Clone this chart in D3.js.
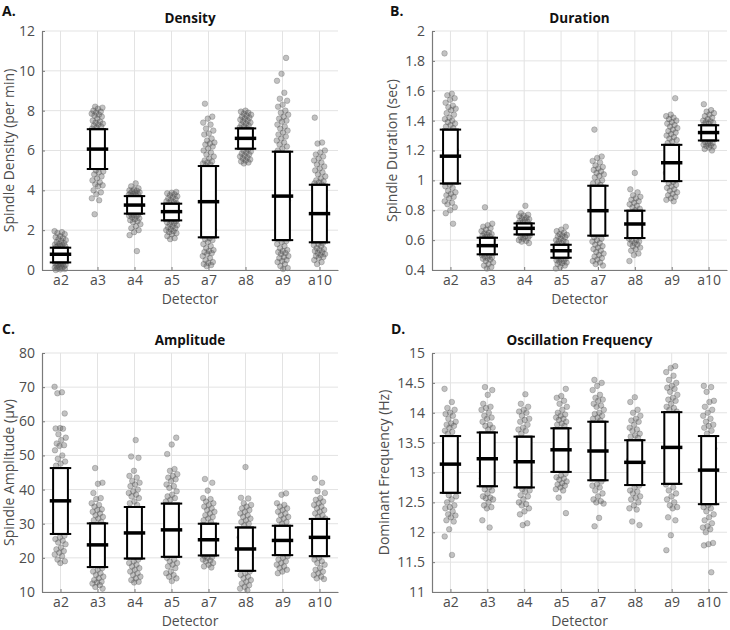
<!DOCTYPE html>
<html>
<head>
<meta charset="utf-8">
<script src="https://cdn.jsdelivr.net/npm/d3@7"></script>
<style>
  body { margin: 0; background: #fff; }
  svg text { font-family: "Open Sans", "Noto Sans", sans-serif; }
  .grid line { stroke: #e3e3e3; stroke-width: 1; }
</style>
</head>
<body>
<svg width="730" height="630"></svg>
<script>
const detectors = ["a2", "a3", "a4", "a5", "a7", "a8", "a9", "a10"]

// Density (per min): mean and mean±SD, then the single subjects
const densityMean = [0.79, 6.07, 3.26, 2.93, 3.43, 6.61, 3.71, 2.83]
const densityLo = [0.38, 5.07, 2.83, 2.49, 1.64, 6.09, 1.50, 1.39]
const densityHi = [1.12, 7.07, 3.71, 3.33, 5.22, 7.11, 5.94, 4.28]
const densityValues = [
  [1.95,1.9,1.85,1.8,1.7,1.65,1.6,1.55,1.5,1.45,1.4,1.35,1.3,1.28,1.25,1.22,1.2,1.18,1.15,1.0,0.9,0.8,0.7,0.6,0.5,0.36,0.33,0.3,0.28,0.25,0.22,0.2,0.18,0.15,0.12,0.1,0.08,0.05,0.03,0.0],
  [8.2,8.15,8.1,8.0,7.95,7.9,7.85,7.8,7.75,7.7,7.6,7.5,7.45,7.4,7.35,7.3,7.25,7.2,7.15,7.1,6.8,6.5,6.2,6.0,5.7,5.4,5.0,4.95,4.9,4.8,4.7,4.6,4.5,4.4,4.3,4.25,4.2,4.0,3.9,3.8,3.6,3.5,2.8],
  [4.35,4.2,4.1,4.05,4.0,3.98,3.95,3.9,3.88,3.85,3.82,3.8,3.78,3.75,3.72,3.5,3.4,3.3,3.2,3.1,3.0,2.9,2.8,2.78,2.75,2.72,2.7,2.65,2.6,2.55,2.5,2.45,2.4,2.3,2.2,2.1,2.0,1.9,1.75,0.95],
  [3.92,3.88,3.85,3.8,3.75,3.7,3.65,3.6,3.55,3.5,3.45,3.4,3.38,3.35,3.2,3.1,3.0,2.9,2.8,2.7,2.6,2.45,2.42,2.4,2.35,2.3,2.25,2.2,2.15,2.1,2.05,2.0,1.95,1.9,1.85,1.8,1.7,1.6,1.55],
  [8.35,7.7,7.6,7.4,7.3,7.1,7.0,6.85,6.8,6.6,6.5,6.4,6.35,6.3,6.2,6.1,6.0,5.9,5.8,5.7,5.6,5.5,5.45,5.4,5.35,5.3,5.25,4.8,4.2,3.6,3.0,2.5,2.0,1.6,1.55,1.5,1.4,1.3,1.2,1.1,1.0,0.95,0.9,0.85,0.8,0.7,0.6,0.5,0.4,0.35,0.3,0.25,0.2],
  [8.0,7.95,7.9,7.85,7.8,7.75,7.7,7.65,7.6,7.55,7.5,7.45,7.4,7.35,7.3,7.25,7.2,7.15,7.12,6.9,6.7,6.5,6.3,6.05,6.0,5.95,5.9,5.85,5.8,5.75,5.7,5.65,5.6,5.55,5.5,5.45,5.4,5.35],
  [10.65,9.85,9.5,8.9,8.6,8.5,8.3,8.2,8.0,7.9,7.8,7.7,7.6,7.5,7.45,7.3,7.2,7.1,7.0,6.9,6.8,6.7,6.6,6.5,6.4,6.3,6.2,6.1,6.0,5.5,4.5,3.5,2.5,2.0,1.45,1.4,1.3,1.2,1.1,1.0,0.95,0.9,0.85,0.8,0.7,0.65,0.6,0.5,0.45,0.4,0.3,0.2,0.1,0.05],
  [7.65,6.4,6.35,6.0,5.9,5.8,5.7,5.6,5.5,5.4,5.3,5.2,5.1,5.0,4.9,4.8,4.7,4.6,4.5,4.45,4.4,4.35,4.3,3.8,3.2,2.6,2.0,1.35,1.3,1.25,1.2,1.1,1.05,1.0,0.95,0.9,0.85,0.8,0.75,0.7,0.65,0.6,0.5,0.4,0.3]
]

// Duration (sec)
const durationMean = [1.162, 0.563, 0.679, 0.529, 0.797, 0.708, 1.118, 1.320]
const durationLo = [0.979, 0.505, 0.638, 0.482, 0.630, 0.614, 0.995, 1.267]
const durationHi = [1.340, 0.616, 0.712, 0.569, 0.964, 0.797, 1.238, 1.369]
const durationValues = [
  [1.85,1.58,1.57,1.55,1.54,1.52,1.5,1.49,1.48,1.47,1.45,1.44,1.42,1.41,1.4,1.39,1.38,1.37,1.36,1.35,1.3,1.2,1.15,1.1,1.05,0.97,0.96,0.95,0.93,0.92,0.91,0.9,0.89,0.88,0.86,0.85,0.84,0.82,0.8,0.78,0.71],
  [0.82,0.71,0.7,0.69,0.68,0.67,0.66,0.65,0.645,0.64,0.635,0.63,0.625,0.62,0.6,0.58,0.56,0.54,0.52,0.5,0.495,0.49,0.485,0.48,0.475,0.47,0.46,0.45,0.44,0.43,0.42,0.41],
  [0.83,0.78,0.77,0.765,0.76,0.75,0.745,0.74,0.735,0.73,0.725,0.72,0.715,0.7,0.69,0.68,0.67,0.66,0.65,0.635,0.63,0.625,0.62,0.615,0.61,0.6,0.595,0.59,0.58],
  [0.69,0.67,0.66,0.65,0.64,0.635,0.63,0.625,0.62,0.61,0.6,0.595,0.59,0.585,0.58,0.575,0.56,0.54,0.52,0.5,0.48,0.475,0.47,0.465,0.46,0.455,0.45,0.445,0.44,0.43,0.42,0.41],
  [1.34,1.16,1.15,1.13,1.12,1.1,1.09,1.08,1.07,1.06,1.05,1.04,1.03,1.02,1.0,0.99,0.98,0.97,0.9,0.8,0.7,0.62,0.61,0.6,0.59,0.58,0.57,0.56,0.55,0.54,0.53,0.52,0.51,0.5,0.49,0.48,0.47,0.46,0.45,0.44,0.43],
  [1.05,0.94,0.92,0.9,0.89,0.88,0.87,0.86,0.85,0.84,0.83,0.82,0.81,0.8,0.75,0.7,0.65,0.61,0.6,0.595,0.59,0.58,0.575,0.57,0.56,0.55,0.54,0.53,0.51,0.5,0.46],
  [1.55,1.44,1.43,1.42,1.41,1.4,1.39,1.38,1.37,1.36,1.35,1.34,1.33,1.32,1.31,1.3,1.29,1.28,1.27,1.26,1.25,1.2,1.1,1.05,0.99,0.98,0.97,0.96,0.95,0.94,0.93,0.92,0.91,0.9,0.89,0.88,0.87,0.86],
  [1.51,1.47,1.46,1.45,1.44,1.43,1.42,1.41,1.4,1.395,1.39,1.385,1.38,1.375,1.34,1.3,1.28,1.26,1.255,1.25,1.245,1.24,1.235,1.23,1.225,1.22,1.21,1.2]
]

// Amplitude (µv)
const amplitudeMean = [36.7, 23.8, 27.3, 28.2, 25.3, 22.6, 25.1, 26.0]
const amplitudeLo = [27.0, 17.3, 19.8, 20.3, 20.7, 16.2, 20.8, 20.5]
const amplitudeHi = [46.3, 30.1, 34.9, 35.9, 30.0, 28.9, 29.4, 31.4]
const amplitudeValues = [
  [70.1,68.5,68.2,62.3,58,57.9,57.8,56.2,55.2,54.5,53.5,53,52.8,51.5,50,49,48.2,47.6,47,44,40,36,32,29,26.5,26,25.5,25,24.5,24,23,22.5,22,21.5,21,20.5,19.5,19,18.5],
  [46.3,42,41.7,39,37.5,37.2,36,35.5,35,34.2,34,33.5,33,32.5,32,31.5,31,30.5,28,25,22,20,17,16.5,16,15.5,15,14.5,14,13.5,13,12.8,12.5,12,11.5,11],
  [54.5,49.7,49.3,45.5,44,43.5,42.5,42,41.5,41,40,39.5,39,38.5,38,37.5,36.5,36,35.5,32,28,24,21,19.5,19,18.5,18,17.5,17,16.5,16,15.5,15,14.5,14,13.5,13,12.8],
  [55.2,53.2,50.4,46,45.5,44.5,44,43.5,43,42.5,41.5,41,40.5,39.5,38.5,38,37.5,37,36.5,33,29,25,22,20,19.5,19,18.5,18,17.5,17,16,15.5,15,14.5,14,13.2],
  [43.1,42,39.7,37.5,37.2,36.5,36,35.5,35,34.5,34,33.5,33,32.5,32,31.5,31,30.5,28,25,23,20.5,20.2,20,19.5,19.2,19,18.5,18,17.5,17.2],
  [46.6,37.6,37.4,36,35.5,35,34.5,34,33.5,33,32.5,32,31.5,31,30.5,30,29.5,26,22,19,16,15.5,15,14.5,14,13.5,13,12.5,12,11.5,11,10.5],
  [38.9,38.5,36,35.5,35,34.5,34,33.5,33,32.5,32,31.5,31,30.5,30,28,25,22,20.5,20,19.5,19,18.5,18,17.5,17,16.5,16,15.5],
  [43.3,42,39.5,39,37.5,37,36.5,36,35.5,35,34.5,34,33.5,33,32.5,32,31.5,29,26,23,20,19.5,19,18.5,18,17,16.5,16,15.5,15,14.5,14,13.8]
]

// Dominant frequency (Hz)
const frequencyMean = [13.14, 13.23, 13.18, 13.38, 13.36, 13.17, 13.42, 13.04]
const frequencyLo = [12.66, 12.77, 12.75, 13.01, 12.87, 12.79, 12.81, 12.47]
const frequencyHi = [13.61, 13.67, 13.60, 13.74, 13.85, 13.54, 14.01, 13.61]
const frequencyValues = [
  [14.4,14.18,14.08,14.05,14.0,13.98,13.95,13.9,13.85,13.82,13.8,13.78,13.75,13.7,13.68,13.65,13.4,13.2,13.0,12.8,12.62,12.6,12.55,12.5,12.45,12.42,12.4,12.35,12.3,12.28,12.25,12.2,12.18,12.05,11.93,11.62],
  [14.43,14.38,14.3,14.15,14.1,14.08,14.05,14.0,13.95,13.92,13.9,13.85,13.8,13.78,13.75,13.72,13.5,13.3,13.1,12.9,12.75,12.72,12.7,12.65,12.6,12.58,12.57,12.55,12.5,12.45,12.42,12.4,12.2,12.08],
  [14.31,14.15,14.1,14.05,14.02,14.0,13.95,13.9,13.88,13.85,13.8,13.75,13.72,13.7,13.65,13.4,13.2,13.0,12.85,12.72,12.7,12.68,12.62,12.6,12.55,12.5,12.47,12.45,12.4,12.35,12.3,12.15,12.12],
  [14.4,14.28,14.25,14.2,14.15,14.1,14.05,14.0,13.97,13.95,13.92,13.9,13.88,13.85,13.82,13.8,13.78,13.6,13.4,13.2,13.1,12.98,12.95,12.92,12.9,12.88,12.85,12.82,12.8,12.78,12.75,12.72,12.7,12.58,12.32],
  [14.55,14.5,14.45,14.38,14.3,14.25,14.22,14.2,14.15,14.12,14.1,14.05,14.0,13.98,13.95,13.92,13.9,13.87,13.6,13.4,13.2,13.0,12.85,12.8,12.78,12.75,12.7,12.65,12.6,12.55,12.52,12.5,12.48,12.24,12.1],
  [14.26,14.18,14.05,14.0,13.95,13.9,13.87,13.85,13.8,13.75,13.72,13.7,13.65,13.62,13.6,13.58,13.4,13.2,13.0,12.9,12.78,12.75,12.7,12.68,12.65,12.6,12.58,12.55,12.5,12.45,12.4,12.38,12.18,12.12],
  [14.78,14.75,14.68,14.62,14.55,14.5,14.45,14.42,14.4,14.35,14.3,14.25,14.22,14.2,14.15,14.1,14.08,14.05,14.02,13.8,13.5,13.2,13.0,12.8,12.75,12.7,12.65,12.6,12.55,12.5,12.45,12.42,12.4,12.25,12.2,11.95,11.7],
  [14.45,14.43,14.35,14.2,14.18,14.1,14.05,14.0,13.95,13.9,13.85,13.8,13.78,13.75,13.7,13.65,13.4,13.1,12.8,12.6,12.45,12.42,12.4,12.35,12.3,12.25,12.2,12.15,12.1,12.08,12.05,12.0,11.82,11.8,11.78,11.33]
]

const densityTicks = [0, 2, 4, 6, 8, 10, 12]
const durationTicks = [0.4, 0.6, 0.8, 1, 1.2, 1.4, 1.6, 1.8, 2]
const amplitudeTicks = [10, 20, 30, 40, 50, 60, 70, 80]
const frequencyTicks = [11, 11.5, 12, 12.5, 13, 13.5, 14, 14.5, 15]

const panels = [
  { letter: "A.", title: "Density", ylabel: "Spindle Density (per min)",
    x0: 42, x1: 338, y0: 31, y1: 270, lx: 2, ly: 16, labx: 9,
    ticks: densityTicks, mean: densityMean, lo: densityLo, hi: densityHi, values: densityValues },
  { letter: "B.", title: "Duration", ylabel: "Spindle Duration (sec)",
    x0: 432, x1: 727, y0: 31, y1: 270, lx: 390, ly: 16, labx: 392,
    ticks: durationTicks, mean: durationMean, lo: durationLo, hi: durationHi, values: durationValues },
  { letter: "C.", title: "Amplitude", ylabel: "Spindle Amplitude (\u00b5v)",
    x0: 42, x1: 338, y0: 353, y1: 592, lx: 2, ly: 334, labx: 9,
    ticks: amplitudeTicks, mean: amplitudeMean, lo: amplitudeLo, hi: amplitudeHi, values: amplitudeValues },
  { letter: "D.", title: "Oscillation Frequency", ylabel: "Dominant Frequency (Hz)",
    x0: 432, x1: 727, y0: 353, y1: 592, lx: 391, ly: 334, labx: 384,
    ticks: frequencyTicks, mean: frequencyMean, lo: frequencyLo, hi: frequencyHi, values: frequencyValues }
]

const svg = d3.select("svg")
const textCol = "#4d4d4d", axisCol = "#7a7a7a"

panels.forEach(p => {
  const x = d3.scalePoint().domain(detectors).range([p.x0, p.x1]).padding(0.5)
  const y = d3.scaleLinear().domain(d3.extent(p.ticks)).range([p.y1, p.y0])
  const step = x.step()
  const g = svg.append("g")

  // grid
  const grid = g.append("g").attr("class", "grid")
  grid.selectAll(".gx").data(detectors).enter().append("line")
    .attr("x1", d => x(d)).attr("x2", d => x(d))
    .attr("y1", p.y0).attr("y2", p.y1)
  grid.selectAll(".gy").data(p.ticks).enter().append("line")
    .attr("x1", p.x0).attr("x2", p.x1)
    .attr("y1", d => y(d)).attr("y2", d => y(d))

  // jittered points
  const pts = []
  p.values.forEach((vals, k) => {
    vals.forEach((v, i) => {
      const off = (((i * 0.6180339887 + k * 0.3) % 1) - 0.5) * 2 * 0.16 * step
      pts.push({ x: x(detectors[k]) + off, v: v })
    })
  })
  g.append("g").selectAll("circle").data(pts).enter().append("circle")
    .attr("cx", d => d.x).attr("cy", d => y(d.v)).attr("r", 2.8)
    .attr("fill", "#555").attr("fill-opacity", 0.36)
    .attr("stroke", "#555").attr("stroke-opacity", 0.36).attr("stroke-width", 0.8)

  // mean +- SD boxes
  const boxes = g.append("g").selectAll("g").data(detectors).enter().append("g")
  const side = 0.2 * step, cap = 0.29 * step
  boxes.append("rect")
    .attr("x", d => x(d) - side).attr("width", 2 * side)
    .attr("y", (d, i) => y(p.hi[i])).attr("height", (d, i) => y(p.lo[i]) - y(p.hi[i]))
    .attr("fill", "#fff").attr("stroke", "#000").attr("stroke-width", 2)
  boxes.append("line")
    .attr("x1", d => x(d) - cap).attr("x2", d => x(d) + cap)
    .attr("y1", (d, i) => y(p.hi[i])).attr("y2", (d, i) => y(p.hi[i]))
    .attr("stroke", "#000").attr("stroke-width", 2)
  boxes.append("line")
    .attr("x1", d => x(d) - cap).attr("x2", d => x(d) + cap)
    .attr("y1", (d, i) => y(p.lo[i])).attr("y2", (d, i) => y(p.lo[i]))
    .attr("stroke", "#000").attr("stroke-width", 2)
  boxes.append("line")
    .attr("x1", d => x(d) - cap).attr("x2", d => x(d) + cap)
    .attr("y1", (d, i) => y(p.mean[i])).attr("y2", (d, i) => y(p.mean[i]))
    .attr("stroke", "#000").attr("stroke-width", 3.5)

  // axes
  const fmt = d => String(+d.toFixed(1))
  const ay = g.append("g").attr("transform", `translate(${p.x0},0)`)
    .call(d3.axisLeft(y).tickValues(p.ticks).tickFormat(fmt).tickSizeInner(-3).tickSizeOuter(0).tickPadding(7))
  const ax = g.append("g").attr("transform", `translate(0,${p.y1})`)
    .call(d3.axisBottom(x).tickSizeInner(-3).tickSizeOuter(0).tickPadding(5))
  ;[ay, ax].forEach(a => {
    a.select(".domain").attr("stroke", axisCol).attr("stroke-width", 1.2)
    a.selectAll(".tick line").attr("stroke", axisCol)
    a.selectAll(".tick text").attr("fill", textCol).style("font-size", "14px")
  })

  // labels
  g.append("text").attr("x", (p.x0 + p.x1) / 2).attr("y", p.y0 - 8)
    .attr("text-anchor", "middle").attr("font-weight", "bold").attr("font-size", 13.5)
    .attr("fill", "#111").text(p.title)
  g.append("text").attr("x", p.lx).attr("y", p.ly)
    .attr("font-weight", "bold").attr("font-size", 14).attr("fill", "#111").text(p.letter)
  g.append("text").attr("x", (p.x0 + p.x1) / 2).attr("y", p.y1 + 34)
    .attr("text-anchor", "middle").attr("font-size", 14).attr("fill", textCol).text("Detector")
  g.append("text")
    .attr("transform", `translate(${p.labx + 5},${(p.y0 + p.y1) / 2}) rotate(-90)`)
    .attr("text-anchor", "middle").attr("font-size", 14).attr("fill", textCol).text(p.ylabel)
})
</script>
</body>
</html>
